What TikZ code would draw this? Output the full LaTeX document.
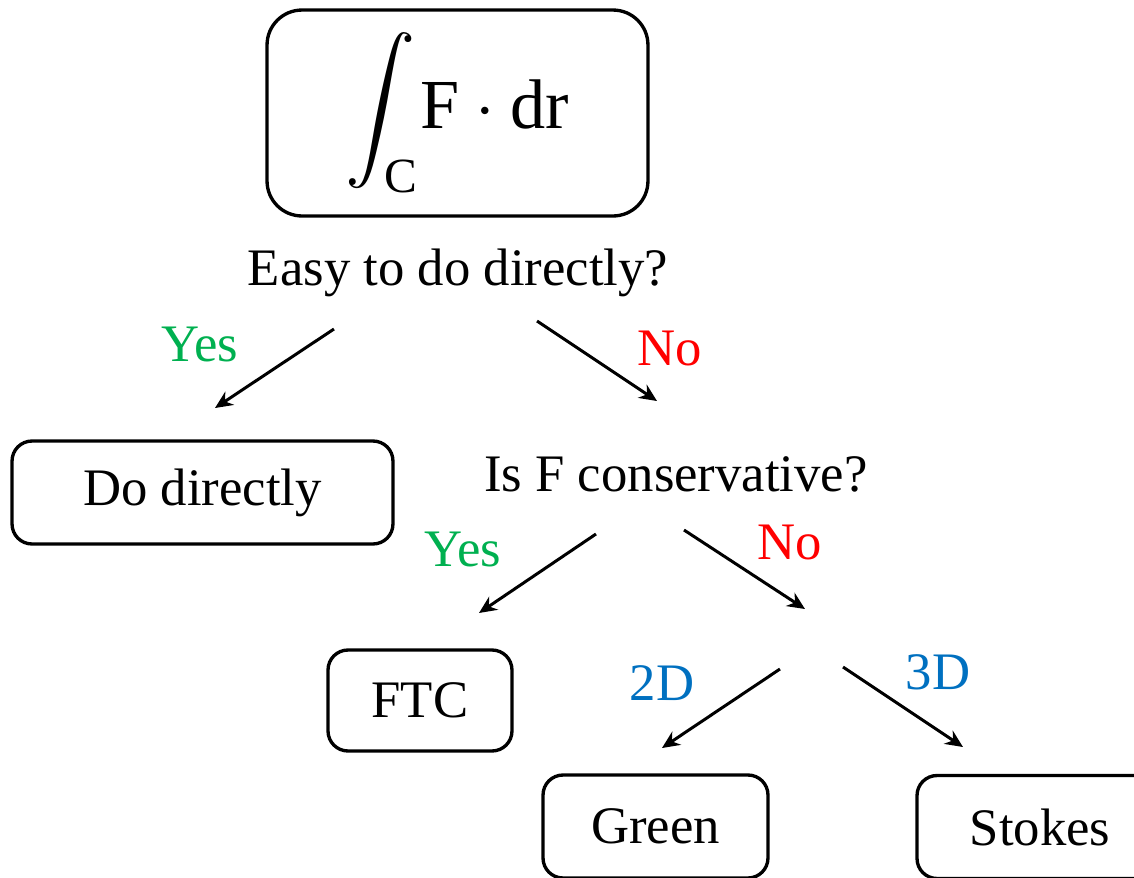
\documentclass[tikz,border=0pt]{standalone}
\usepackage{amsmath}
\usepackage{graphicx}
\usepackage{fontspec}
\setmainfont{Liberation Serif}
\usetikzlibrary{arrows.meta}
\definecolor{yesgreen}{RGB}{0,176,80}
\definecolor{nored}{RGB}{255,0,0}
\definecolor{dimblue}{RGB}{0,112,192}
\tikzset{
  box/.style={draw, rounded corners=0.4cm, line width=1.9pt, minimum height=2.06cm, inner sep=0pt},
  arr/.style={-{Stealth[length=10pt,width=9pt]}, line width=1.7pt},
}
\begin{document}
\begin{tikzpicture}[x=0.02cm, y=-0.02cm, font=\fontsize{30}{36}\selectfont]
    \useasboundingbox (0,0) rectangle (1134,877);

    % Line integral
    \node[box, rounded corners=0.7cm, minimum width=7.62cm, minimum height=4.12cm] (integral) at (457.5,113)
        {\normalsize\scalebox{4}{$\displaystyle\int_{\mathrm{C}}\! \mathrm{F}\cdot\mathrm{dr}$}};

    % Questions
    \node (easy) at (458,273) {Easy to do directly?};
    \node (cons) at (676,474) {Is F conservative?};

    % Outcomes
    \node[box, minimum width=7.62cm] (direct) at (202.5,492.5) {Do directly};
    \node[box, minimum width=3.68cm, minimum height=2.02cm] (ftc) at (420,700.5) {FTC};
    \node[box, minimum width=4.5cm] (green) at (655.5,826.5) {Green};
    \node[box, minimum width=4.92cm] (stokes) at (1040,827) {Stokes};

    % Arrow ends
    \coordinate (yesA) at (334,329);  \coordinate (yesB) at (215,408);
    \coordinate (noA) at (537,321);   \coordinate (noB) at (657,401);
    \coordinate (yes2A) at (596,534); \coordinate (yes2B) at (479,613);
    \coordinate (no2A) at (684,530);  \coordinate (no2B) at (805,609);
    \coordinate (twoA) at (780,669);  \coordinate (twoB) at (662,748);
    \coordinate (threeA) at (843,667); \coordinate (threeB) at (963,747);

    % Arrows
    \draw[arr] (yesA) -- (yesB);
    \draw[arr] (noA) -- (noB);
    \draw[arr] (yes2A) -- (yes2B);
    \draw[arr] (no2A) -- (no2B);
    \draw[arr] (twoA) -- (twoB);
    \draw[arr] (threeA) -- (threeB);

    % Labels
    \node[text=yesgreen] (yes1) at (200,344) {Yes};
    \node[text=nored] (no1) at (670,348) {No};
    \node[text=yesgreen] (yes2) at (463,549) {Yes};
    \node[text=nored] (no2) at (790,542) {No};
    \node[text=dimblue] (two) at (662,683) {2D};
    \node[text=dimblue] (three) at (938,672) {3D};
\end{tikzpicture}
\end{document}
